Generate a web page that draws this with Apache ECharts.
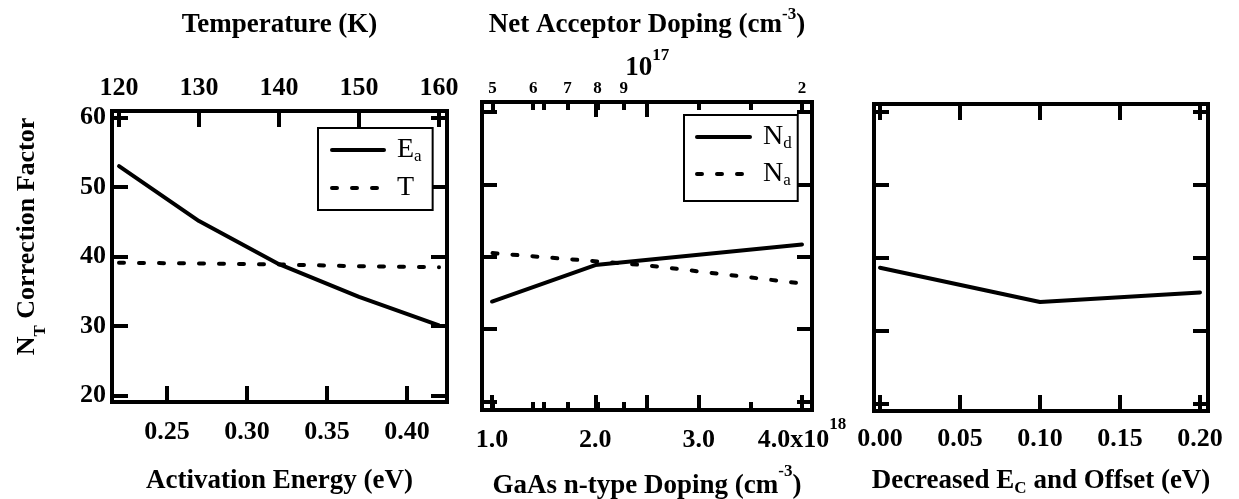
<!DOCTYPE html>
<html><head><meta charset="utf-8">
<script src="https://cdn.jsdelivr.net/npm/echarts@6/dist/echarts.min.js"></script>
<style>html,body{margin:0;padding:0;background:#fff}#c{width:1239px;height:499px}</style>
</head><body><div id="c"></div>
<script>
// ---- data ----
const eaX = [0.22, 0.27, 0.32, 0.37, 0.42];      // activation energy (eV)
const eaY = [53.0, 45.1, 38.9, 34.2, 30.1];
const tX = [120, 130, 140, 150, 160];             // temperature (K)
const tY = [39.1, 39.0, 38.85, 38.6, 38.45];
const ndX = [1.0, 2.0, 4.0];                      // GaAs n-type doping (x1e18 cm^-3)
const ndY = [33.8, 38.85, 41.7];
const naX = [5e16, 1e17, 2e17];                   // net acceptor doping (cm^-3)
const naY = [40.5, 38.8, 36.3];
const ecX = [0.00, 0.10, 0.20];                   // decreased Ec and offset (eV)
const ecY = [38.6, 33.9, 35.2];

// ---- ticks / labels ----
const yTicks = [20, 30, 40, 50, 60];
const eaTicks = [0.25, 0.30, 0.35, 0.40];
const tTicks = [120, 130, 140, 150, 160];
const ndTicks = [1, 2, 3, 4];
const ndTickLabels = ['1.0', '2.0', '3.0', '4.0x10^18'];
const ndLongTicks = [1, 2, 2.5, 3, 4];
const ndShortTicks = [1.5, 3.5];
const ndTopLongTicks = [2, 2.5];
const ndTopShortTicks = [1.5, 3, 3.5];
const naTicks = [5e16, 6e16, 7e16, 8e16, 9e16, 1e17, 2e17];
const naTickLabels = ['5', '6', '7', '8', '9', '10^17', '2'];
const ecTicks = [0.00, 0.05, 0.10, 0.15, 0.20];

const F = '"Liberation Serif","Times New Roman",serif';
const lg = v => Math.log10(v);
const naLogTicks = naTicks.map(lg);

function pick(ticks, labels, v) {
  const i = ticks.findIndex(t => Math.abs(t - v) < 1e-6);
  return i < 0 ? '' : labels[i];
}
function supRich(label, m, p) {
  const s = label.split('^');
  return s.length > 1 ? '{' + m + '|' + s[0] + '}{' + p + '|' + s[1] + '}' : '{' + m + '|' + s[0] + '}';
}
const B = {fontFamily: F, fontWeight: 'bold', color: '#000'};

function axis(o) {
  const a = {
    type: 'value', gridIndex: o.grid, position: o.pos, min: o.min, max: o.max,
    splitLine: {show: false},
    axisLine: {show: o.line !== false, onZero: false, lineStyle: {color: '#000', width: 4, cap: 'square'}},
    axisTick: {show: true, inside: true, length: o.len || 16, customValues: o.ticks, lineStyle: {color: '#000', width: 4}},
    axisLabel: {show: false},
    nameMoveOverlap: false
  };
  if (o.labels) a.axisLabel = Object.assign({show: true, customValues: o.ticks, fontSize: 26}, B, o.labels);
  if (o.name) {
    a.name = o.name; a.nameLocation = 'middle'; a.nameGap = o.nameGap;
    a.nameTextStyle = Object.assign({fontSize: 27}, B, o.nameStyle || {});
  }
  return a;
}

const P1 = {xMin: 0.2156, xMax: 0.425, tMin: 119.125, tMax: 161, yMin: 19.06, yMax: 60.94};
const P2 = {xMin: 0.9032, xMax: 4.0968, lMin: 16.67854, lMax: 17.32049, yMin: 18.8, yMax: 61.4};
const P3 = {xMin: -0.00375, xMax: 0.205, yMin: 18.94, yMax: 61.06};

const xAxis = [
  // panel 1
  axis({grid: 0, pos: 'bottom', min: P1.xMin, max: P1.xMax, ticks: eaTicks,
    labels: {margin: 17, formatter: v => v.toFixed(2)},
    name: 'Activation Energy (eV)', nameGap: 65.5}),
  axis({grid: 0, pos: 'top', min: P1.tMin, max: P1.tMax, ticks: tTicks,
    labels: {margin: 10, formatter: v => String(Math.round(v))},
    name: 'Temperature (K)', nameGap: 72.5}),
  // panel 2
  axis({grid: 1, pos: 'bottom', min: P2.xMin, max: P2.xMax, ticks: ndLongTicks, len: 15,
    labels: {customValues: ndTicks, margin: 6.5,
      formatter: v => supRich(pick(ndTicks, ndTickLabels, v), 'm', 'p'),
      rich: {m: Object.assign({fontSize: 26, verticalAlign: 'top', padding: [10.5, 0, 0, 0]}, B),
             p: Object.assign({fontSize: 17, verticalAlign: 'top'}, B)}},
    name: '{t|GaAs n-type Doping (cm}{p|-3}{t|)}', nameGap: 53,
    nameStyle: {rich: {t: Object.assign({fontSize: 27, verticalAlign: 'top', padding: [10, 0, 0, 0]}, B),
                       p: Object.assign({fontSize: 17, verticalAlign: 'top'}, B)}}}),
  axis({grid: 1, pos: 'bottom', min: P2.xMin, max: P2.xMax, ticks: ndShortTicks, len: 8, line: false}),
  axis({grid: 1, pos: 'bottom', min: P2.lMin, max: P2.lMax, ticks: naLogTicks, len: 8, line: false}),
  axis({grid: 1, pos: 'top', min: P2.lMin, max: P2.lMax, ticks: naLogTicks, len: 8,
    labels: {margin: 5,
      formatter: v => {
        const l = pick(naLogTicks, naTickLabels, v);
        return l.indexOf('^') >= 0 ? supRich(l, 'b', 'p') : '{s|' + l + '}';
      },
      rich: {s: Object.assign({fontSize: 17, verticalAlign: 'bottom'}, B),
             b: Object.assign({fontSize: 27, verticalAlign: 'bottom', padding: [0, 0, 15, 0]}, B),
             p: Object.assign({fontSize: 17, verticalAlign: 'bottom', padding: [0, 0, 33, 0]}, B)}},
    name: '{t|Net Acceptor Doping (cm}{p|-3}{t|)}', nameGap: 63.5,
    nameStyle: {rich: {t: Object.assign({fontSize: 27, verticalAlign: 'bottom'}, B),
                       p: Object.assign({fontSize: 17, verticalAlign: 'bottom', padding: [0, 0, 15, 0]}, B)}}}),
  axis({grid: 1, pos: 'top', min: P2.xMin, max: P2.xMax, ticks: ndTopLongTicks, len: 15, line: false}),
  axis({grid: 1, pos: 'top', min: P2.xMin, max: P2.xMax, ticks: ndTopShortTicks, len: 8, line: false}),
  // panel 3
  axis({grid: 2, pos: 'bottom', min: P3.xMin, max: P3.xMax, ticks: ecTicks,
    labels: {margin: 15, formatter: v => v.toFixed(2)},
    name: '{t|Decreased E}{s|C}{t| and Offset (eV)}', nameGap: 56.5,
    nameStyle: {rich: {t: Object.assign({fontSize: 27, verticalAlign: 'top'}, B),
                       s: Object.assign({fontSize: 17, verticalAlign: 'top', padding: [13, 0, 0, 0]}, B)}}}),
  axis({grid: 2, pos: 'top', min: P3.xMin, max: P3.xMax, ticks: ecTicks})
];

const yAxis = [
  axis({grid: 0, pos: 'left', min: P1.yMin, max: P1.yMax, ticks: yTicks,
    labels: {margin: 6, formatter: v => String(Math.round(v))},
    name: '{t|N}{s|T}{t| Correction Factor}', nameGap: 62.5,
    nameStyle: {padding: [0, 0, 0, 40],
      rich: {t: Object.assign({fontSize: 26, verticalAlign: 'top'}, B),
             s: Object.assign({fontSize: 17, verticalAlign: 'top', padding: [18.5, 0, 0, 0]}, B)}}}),
  axis({grid: 0, pos: 'right', min: P1.yMin, max: P1.yMax, ticks: yTicks}),
  axis({grid: 1, pos: 'left', min: P2.yMin, max: P2.yMax, ticks: yTicks, len: 15}),
  axis({grid: 1, pos: 'right', min: P2.yMin, max: P2.yMax, ticks: yTicks, len: 15}),
  axis({grid: 2, pos: 'left', min: P3.yMin, max: P3.yMax, ticks: yTicks, len: 15}),
  axis({grid: 2, pos: 'right', min: P3.yMin, max: P3.yMax, ticks: yTicks, len: 15})
];

const solid = {color: '#000', width: 4, type: 'solid', cap: 'round', join: 'round'};
const dashed = {color: '#000', width: 4, type: [5, 15], cap: 'round'};
function line(name, xi, yi, xs, ys, style, fx) {
  return {type: 'line', name: name, xAxisIndex: xi, yAxisIndex: yi, symbol: 'none',
    data: xs.map((x, i) => [fx ? fx(x) : x, ys[i]]),
    lineStyle: style, itemStyle: {color: '#000'}, z: 1, silent: true};
}

const legendNames = {'E_a': '{n|E}{s|a}', 'T': '{n|T}', 'N_d': '{n|N}{s|d}', 'N_a': '{n|N}{s|a}'};
function legend(data, left, top, pad, gap, w) {
  return {data: data, orient: 'vertical', left: left, top: top, padding: pad, itemGap: gap,
    itemWidth: w, itemHeight: 14, borderColor: '#000', borderWidth: 2, borderRadius: 0,
    backgroundColor: '#fff', selectedMode: false,
    itemStyle: {opacity: 0},
    lineStyle: {width: 4, color: '#000', cap: 'round'},
    formatter: n => legendNames[n],
    textStyle: {color: '#000', fontFamily: F, fontSize: 28, lineHeight: 30, padding: [0, 0, 0, 8],
      rich: {n: {fontFamily: F, fontSize: 28, lineHeight: 30, color: '#000'},
             s: {fontFamily: F, fontSize: 17, lineHeight: 17, verticalAlign: 'bottom', color: '#000'}}}};
}

const chart = echarts.init(document.getElementById('c'), null, {renderer: 'canvas'});
chart.setOption({
  animation: false,
  backgroundColor: '#fff',
  grid: [
    {left: 112, top: 111, width: 335, height: 291, containLabel: false, outerBoundsMode: 'none'},
    {left: 482, top: 102, width: 330, height: 308, containLabel: false, outerBoundsMode: 'none'},
    {left: 874, top: 104, width: 334, height: 307, containLabel: false, outerBoundsMode: 'none'}
  ],
  legend: [
    legend(['E_a', 'T'], 318, 128, [7, 11, 7, 12], 8, 52),
    legend(['N_d', 'N_a'], 684, 115, [7, 6, 12, 11], 7, 53)
  ],
  xAxis: xAxis,
  yAxis: yAxis,
  series: [
    line('E_a', 0, 0, eaX, eaY, solid),
    line('T', 1, 0, tX, tY, dashed),
    line('N_d', 2, 2, ndX, ndY, solid),
    line('N_a', 5, 2, naX, naY, dashed, lg),
    line('EC', 8, 4, ecX, ecY, solid)
  ]
});
</script></body></html>
